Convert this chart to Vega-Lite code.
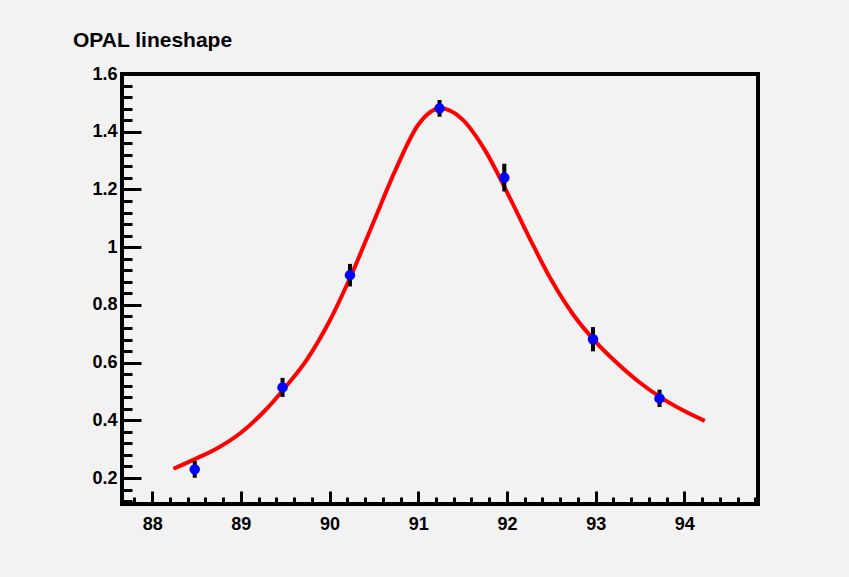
{
  "$schema": "https://vega.github.io/schema/vega-lite/v6.json",
  "width": 636,
  "height": 430,
  "autosize": {"type": "none"},
  "padding": {"left": 122, "top": 74, "right": 91, "bottom": 73},
  "background": "#f2f2f2",
  "title": {
    "text": "OPAL lineshape",
    "anchor": "start",
    "frame": "group",
    "dx": -49,
    "dy": -10,
    "font": "Liberation Sans",
    "fontSize": 21,
    "fontWeight": "bold",
    "color": "black"
  },
  "config": {
    "view": {"stroke": "black", "strokeWidth": 4, "fill": "#f2f2f2"},
    "axis": {
      "domain": false,
      "grid": false,
      "tickColor": "black",
      "tickWidth": 3,
      "labelFont": "Liberation Sans",
      "labelFontWeight": "bold",
      "labelFontSize": 18,
      "labelColor": "black",
      "labelOverlap": false,
      "labelFlush": false,
      "labelBound": false,
      "title": null
    }
  },
  "datasets": {
    "curve": [
      {"E": 88.24, "sigma": 0.232},
      {"E": 88.5, "sigma": 0.268},
      {"E": 88.75, "sigma": 0.306},
      {"E": 89.0, "sigma": 0.357},
      {"E": 89.25, "sigma": 0.427},
      {"E": 89.5, "sigma": 0.514},
      {"E": 89.75, "sigma": 0.613},
      {"E": 90.0, "sigma": 0.744},
      {"E": 90.25, "sigma": 0.907},
      {"E": 90.5, "sigma": 1.09},
      {"E": 90.75, "sigma": 1.272},
      {"E": 91.0, "sigma": 1.424},
      {"E": 91.25, "sigma": 1.481},
      {"E": 91.5, "sigma": 1.442},
      {"E": 91.75, "sigma": 1.337},
      {"E": 92.0, "sigma": 1.191},
      {"E": 92.25, "sigma": 1.034},
      {"E": 92.5, "sigma": 0.886},
      {"E": 92.75, "sigma": 0.765},
      {"E": 93.0, "sigma": 0.672},
      {"E": 93.25, "sigma": 0.596},
      {"E": 93.5, "sigma": 0.53},
      {"E": 93.75, "sigma": 0.476},
      {"E": 94.0, "sigma": 0.432},
      {"E": 94.23, "sigma": 0.398}
    ],
    "points": [
      {"E": 88.48, "sigma": 0.23, "err": 0.029},
      {"E": 89.47, "sigma": 0.514, "err": 0.033},
      {"E": 90.23, "sigma": 0.903, "err": 0.039},
      {"E": 91.24, "sigma": 1.481, "err": 0.029},
      {"E": 91.97, "sigma": 1.241, "err": 0.048},
      {"E": 92.97, "sigma": 0.681, "err": 0.042},
      {"E": 93.72, "sigma": 0.476, "err": 0.03}
    ]
  },
  "resolve": {"scale": {"x": "independent", "y": "independent"}},
  "layer": [
    {
      "data": {"name": "curve"},
      "mark": {"type": "line", "color": "#ff0000", "strokeWidth": 4, "interpolate": "monotone"},
      "encoding": {
        "x": {
          "field": "E", "type": "quantitative",
          "scale": {"domain": [87.66, 94.83], "nice": false, "zero": false},
          "axis": {"orient": "bottom", "values": [88, 89, 90, 91, 92, 93, 94], "format": "d", "tickSize": -13, "labelPadding": 24}
        },
        "y": {
          "field": "sigma", "type": "quantitative",
          "scale": {"domain": [0.11, 1.6], "nice": false, "zero": false},
          "axis": {"orient": "left", "values": [0.2, 0.4, 0.6, 0.8, 1, 1.2, 1.4, 1.6], "format": "~g", "tickSize": -19, "labelPadding": 24}
        }
      }
    },
    {
      "data": {"name": "points"},
      "mark": {"type": "rule", "color": "black", "strokeWidth": 4},
      "transform": [
        {"calculate": "datum.sigma - datum.err", "as": "lo"},
        {"calculate": "datum.sigma + datum.err", "as": "hi"}
      ],
      "encoding": {
        "x": {
          "field": "E", "type": "quantitative",
          "scale": {"domain": [87.66, 94.83], "nice": false, "zero": false},
          "axis": {"orient": "bottom", "labels": false, "tickSize": -7,
            "values": [87.8, 88.2, 88.4, 88.6, 88.8, 89.2, 89.4, 89.6, 89.8, 90.2, 90.4, 90.6, 90.8, 91.2, 91.4, 91.6, 91.8, 92.2, 92.4, 92.6, 92.8, 93.2, 93.4, 93.6, 93.8, 94.2, 94.4, 94.6, 94.8]}
        },
        "y": {
          "field": "lo", "type": "quantitative",
          "scale": {"domain": [0.11, 1.6], "nice": false, "zero": false},
          "axis": {"orient": "left", "labels": false, "tickSize": -10,
            "values": [0.12, 0.16, 0.24, 0.28, 0.32, 0.36, 0.44, 0.48, 0.52, 0.56, 0.64, 0.68, 0.72, 0.76, 0.84, 0.88, 0.92, 0.96, 1.04, 1.08, 1.12, 1.16, 1.24, 1.28, 1.32, 1.36, 1.44, 1.48, 1.52, 1.56]}
        },
        "y2": {"field": "hi"}
      }
    },
    {
      "data": {"name": "points"},
      "mark": {"type": "circle", "color": "#0000ff", "opacity": 1, "size": 110},
      "encoding": {
        "x": {
          "field": "E", "type": "quantitative",
          "scale": {"domain": [87.66, 94.83], "nice": false, "zero": false},
          "axis": null
        },
        "y": {
          "field": "sigma", "type": "quantitative",
          "scale": {"domain": [0.11, 1.6], "nice": false, "zero": false},
          "axis": null
        }
      }
    }
  ]
}
